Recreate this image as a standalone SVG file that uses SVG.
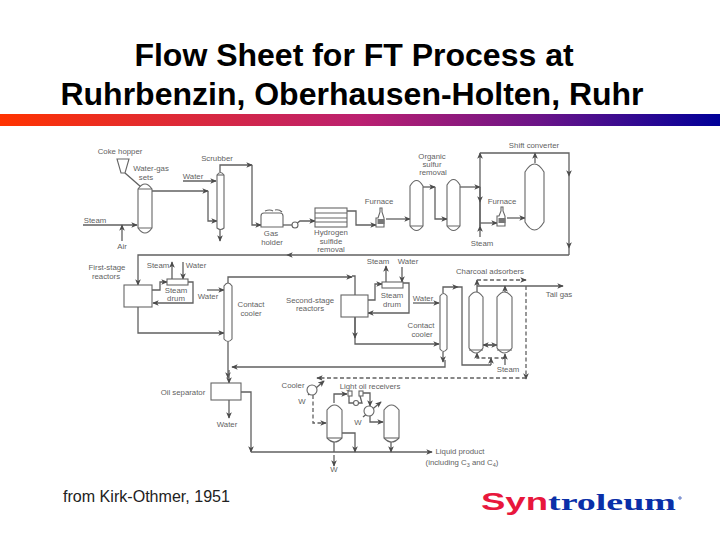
<svg xmlns="http://www.w3.org/2000/svg" width="720" height="540" viewBox="0 0 720 540">
<style>
.t{font-family:"Liberation Sans",Arial,sans-serif;font-size:32px;font-weight:bold;fill:#000;text-anchor:middle}
.l{font-family:"Liberation Sans",Arial,sans-serif;font-size:7.800px;fill:#5f5f5f;text-anchor:middle}
.s{fill:none;stroke:#666;stroke-width:1.100}
.f{fill:#fff;stroke:#666;stroke-width:1.100}
.c{fill:none;stroke:#606060;stroke-width:1.300}
.d{fill:none;stroke:#606060;stroke-width:1.300;stroke-dasharray:4 2.500}
.a{marker-end:url(#ah)}
</style>
<defs>
<marker id="ah" viewBox="0 0 8 8" refX="7" refY="4" markerWidth="6.500" markerHeight="6.500" markerUnits="userSpaceOnUse" orient="auto"><path d="M0 .5L8 4L0 7.500L2 4Z" fill="#4c4c4c"/></marker>
<linearGradient id="bar" x1="0" x2="1" y1="0" y2="0"><stop offset="0" stop-color="#ff3300"/><stop offset=".5" stop-color="#bb2070"/><stop offset=".75" stop-color="#6a1488"/><stop offset="1" stop-color="#000099"/></linearGradient>
</defs>
<rect width="720" height="540" fill="#fff"/>
<g id="title">
<text class="t" x="354" y="66">Flow Sheet for FT Process at</text>
<text class="t" x="352" y="105">Ruhrbenzin, Oberhausen-Holten, Ruhr</text>
</g>
<rect id="bar-strip" x="0" y="114" width="720" height="12" fill="url(#bar)"/>
<g id="connectors">
<path class="c" d="M125 173L141 187"/>
<path class="c a" d="M83 225H137"/><path class="c a" d="M122 241V225"/>
<path class="c a" d="M152 191H208"/><path class="c a" d="M208 191V221H217"/>
<path class="c a" d="M183 181H216"/><path class="c a" d="M220 229V241"/>
<path class="c a" d="M220 172V165H252"/><path class="c a" d="M252 165V225H261"/>
<path class="c" d="M283 225H292"/><path class="c a" d="M296 224L300 221H315"/>
<path class="c a" d="M347 211H356V225H376"/><path class="c a" d="M386 219H410"/>
<path class="c a" d="M423 187H435"/><path class="c a" d="M435 187V219H447"/>
<path class="c a" d="M460 187H480"/>
<path class="c a" d="M480 237V226"/><path class="c a" d="M480 226V153"/><path class="c a" d="M480 187V202"/>
<path class="c" d="M480 202V226"/>
<path class="c a" d="M480 223H497"/><path class="c a" d="M507 218H525"/>
<path class="c a" d="M535 163V153"/>
<path class="c a" d="M480 153H569V176"/><path class="c a" d="M569 176V248"/><path class="c" d="M569 248V255"/>
<path class="c a" d="M569 255H287"/><path class="c a" d="M287 255H138V285"/>
<path class="c a" d="M172 279V262"/><path class="c a" d="M183 262V279"/>
<path class="c a" d="M152 290H160V282H167"/><path class="c a" d="M188 282H193V303H153"/>
<path class="c a" d="M207 290H224"/><path class="c a" d="M138 307V333H224"/>
<path class="c a" d="M228 283V277H352"/><path class="c" d="M352 276H355V295"/>
<path class="c a" d="M228 342V378"/>
<path class="c a" d="M445 360V367H232"/>
<path class="c a" d="M386 282V266"/><path class="c a" d="M402 267V282"/>
<path class="c a" d="M368 300H375V284H382"/><path class="c a" d="M403 283H409V313H368"/>
<path class="c a" d="M355 317V344H439"/><path class="c a" d="M355 317V338"/>
<path class="c a" d="M413 303H439"/><path class="c a" d="M443 352V362"/>
<path class="c a" d="M443 293V287H458"/><path class="c" d="M458 287H462V365H491"/>
<path class="c a" d="M491 365V358"/>
<path class="d a" d="M505 358H477V353"/>
<path class="c a" d="M477 292V280"/><path class="d a" d="M477 280H526"/>
<path class="c a" d="M477 286H563"/><path class="c a" d="M505 292V286"/>
<path class="d a" d="M526 286V379"/><path class="d a" d="M526 378H317"/>
<path class="c a" d="M483 345H497"/><path class="c a" d="M497 345H483"/>
<path class="c a" d="M505 365V354"/>
<path class="c a" d="M229 370V383"/>
<path class="c a" d="M229 400V418"/>
<path class="c a" d="M241 392H251V452"/><path class="c a" d="M251 452H432"/>
<path class="c a" d="M308 395L324 381"/>
<path class="d a" d="M313 395V423H326"/>
<path class="c" d="M334 442V452"/><path class="c a" d="M334 455V466"/>
<path class="c a" d="M342 433H355V452"/>
<path class="c a" d="M334 403V394H347"/>
<path class="c" d="M349 396V403H353M359 403H362L360 396"/>
<path class="c a" d="M363 393H370V406"/>
<path class="c a" d="M370 415V422H383"/>
<path class="c a" d="M363 417L381 402"/>
<path class="c a" d="M391 442V452"/>
</g>
<g id="coke-hopper"><path class="f" d="M117 159H129L125 173H121Z"/><text class="l" x="120" y="154">Coke hopper</text></g>
<g id="water-gas-sets"><path class="f" d="M138 189Q145 179 152 189V228Q145 238 138 228Z"/><path class="s" d="M138 189H152M138 228H152"/><text class="l" x="151" y="171">Water-gas</text><text class="l" x="146" y="180">sets</text></g>
<g id="labels-steam-air"><text class="l" x="95" y="223">Steam</text><text class="l" x="122" y="249">Air</text></g>
<g id="scrubber"><path class="f" d="M217 175Q220.500 170 224 175V228Q220.500 231 217 228Z"/><path class="s" d="M217 175H224"/><text class="l" x="217" y="161">Scrubber</text><text class="l" x="193" y="179">Water</text></g>
<g id="gas-holder"><path class="f" d="M261 227V216Q261 213 264 213H280Q283 213 283 216V227Z"/><path class="s" d="M265 211Q270 209 273 211M275 210Q279 209 282 212"/><text class="l" x="271" y="236">Gas</text><text class="l" x="272" y="245">holder</text></g>
<g id="pump"><circle class="f" cx="295" cy="225" r="3"/></g>
<g id="hydrogen-sulfide-removal"><rect class="f" x="315" y="208" width="32" height="19"/><path class="s" d="M315 213H347M315 218H347M315 222H347"/><text class="l" x="331" y="235">Hydrogen</text><text class="l" x="331" y="243.500">sulfide</text><text class="l" x="331" y="252">removal</text></g>
<g id="furnace-1"><path class="f" d="M378 218L380 212V208H382V212L384 218V227H376V218Z"/><rect x="377.500" y="219" width="7" height="5" fill="#777"/><text class="l" x="379" y="204">Furnace</text></g>
<g id="organic-sulfur-removal"><path class="f" d="M410 186Q416.500 175 423 186V226Q416.500 235 410 226Z"/><path class="f" d="M447 185Q453.500 174 460 185V226Q453.500 235 447 226Z"/><path class="s" d="M410 226H423M447 226H460"/><text class="l" x="432" y="159">Organic</text><text class="l" x="432" y="167">sulfur</text><text class="l" x="433" y="175">removal</text></g>
<g id="furnace-2"><path class="f" d="M499 216L501 211V207H503V211L505 216V226H497V216Z"/><rect x="498.500" y="218" width="7" height="5" fill="#777"/><text class="l" x="502" y="204">Furnace</text></g>
<g id="shift-converter"><path class="f" d="M525 172Q534.500 156 544 172V222Q534.500 238 525 222Z"/><text class="l" x="534" y="148">Shift converter</text></g>
<text class="l" x="482" y="246">Steam</text>
<g id="first-stage-reactors"><rect class="f" x="124" y="285" width="28" height="22"/><text class="l" x="107" y="270">First-stage</text><text class="l" x="106" y="279">reactors</text></g>
<g id="steam-drum-1"><rect class="f" x="167" y="279" width="21" height="6"/><text class="l" x="176" y="292.500">Steam</text><text class="l" x="176" y="301">drum</text><text class="l" x="158" y="268">Steam</text><text class="l" x="196" y="268">Water</text></g>
<text class="l" x="208" y="299">Water</text>
<g id="contact-cooler-1"><path class="f" d="M224 286Q228 280 232 286V339Q228 344 224 339Z"/><text class="l" x="251" y="307">Contact</text><text class="l" x="251" y="316">cooler</text></g>
<g id="second-stage-reactors"><rect class="f" x="341" y="295" width="27" height="22"/><text class="l" x="310" y="303">Second-stage</text><text class="l" x="310" y="311">reactors</text></g>
<g id="steam-drum-2"><rect class="f" x="382" y="282" width="21" height="6"/><text class="l" x="392" y="298">Steam</text><text class="l" x="392" y="306.500">drum</text><text class="l" x="378" y="264">Steam</text><text class="l" x="408" y="264">Water</text></g>
<text class="l" x="423" y="300.500">Water</text>
<g id="contact-cooler-2"><path class="f" d="M440 296Q443.500 291 447 296V349Q443.500 354 440 349Z"/><text class="l" x="421" y="328">Contact</text><text class="l" x="422" y="336.500">cooler</text></g>
<g id="charcoal-adsorbers"><path class="f" d="M469 297Q476 287 483 297V348Q476 358 469 348Z"/><path class="f" d="M497 297Q504.500 287 512 297V348Q504.500 358 497 348Z"/><path class="s" d="M469 350H483M497 350H512"/><text class="l" x="490" y="274">Charcoal adsorbers</text><text class="l" x="508" y="372">Steam</text></g>
<text class="l" x="559" y="297">Tail gas</text>
<g id="oil-separator"><rect class="f" x="211" y="383" width="30" height="17"/><text class="l" x="183" y="395">Oil separator</text><text class="l" x="227" y="427">Water</text></g>
<g id="cooler"><circle class="f" cx="312" cy="390" r="5"/><text class="l" x="293" y="388">Cooler</text><text class="l" x="302" y="404">W</text></g>
<g id="light-oil-receiver-1"><path class="f" d="M327 410Q334.500 400 342 410V438Q334.500 446 327 438Z"/><path class="s" d="M327 438H342"/><text class="l" x="370" y="389">Light oil receivers</text></g>
<g id="receivers"><rect class="f" x="348" y="391" width="4" height="5"/><rect class="f" x="359" y="391" width="4" height="5"/><circle class="f" cx="356" cy="403" r="2.500"/><circle class="f" cx="369" cy="411" r="5"/><text class="l" x="358" y="425">W</text></g>
<g id="light-oil-receiver-2"><path class="f" d="M384 410Q391.500 400 399 410V438Q391.500 446 384 438Z"/><path class="s" d="M384 438H399"/></g>
<text class="l" x="334" y="472">W</text>
<g id="liquid-product"><text class="l" x="460" y="454">Liquid product</text><text class="l" x="462" y="465">(including C<tspan font-size="5.500" dy="1.500">3</tspan><tspan dy="-1.500"> and C</tspan><tspan font-size="5.500" dy="1.500">4</tspan><tspan dy="-1.500">)</tspan></text></g>
<text x="63" y="502" font-family="'Liberation Sans',Arial,sans-serif" font-size="16" fill="#222" textLength="167" lengthAdjust="spacingAndGlyphs">from Kirk-Othmer, 1951</text>
<g id="logo">
<text x="481" y="509.500" font-family="'Liberation Sans',Arial,sans-serif" font-size="23" font-weight="bold" fill="#e8173c" textLength="67" lengthAdjust="spacingAndGlyphs">Syn</text>
<text x="548" y="509.500" font-family="'Liberation Serif','Times New Roman',serif" font-size="23" font-weight="bold" fill="#0a2fa8" textLength="128" lengthAdjust="spacingAndGlyphs">troleum</text>
<circle cx="680" cy="498" r="1.200" fill="none" stroke="#0a2fa8" stroke-width=".7"/>
</g>
</svg>
